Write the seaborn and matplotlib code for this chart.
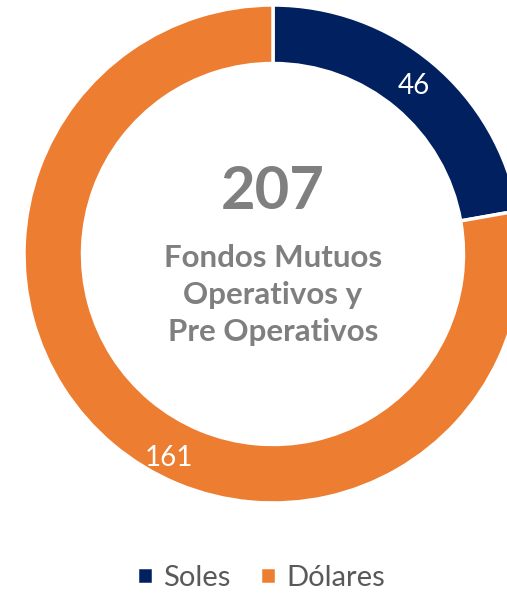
import matplotlib
matplotlib.use("Agg")
import matplotlib.pyplot as plt
import seaborn as sns
import numpy as np

# data
categories = ['Soles', 'Dólares']
values = [46, 161]
colors = ['#002060', '#ED7D31']
total_label = '207'
center_text = 'Fondos Mutuos\nOperativos y\nPre Operativos'

sns.set_theme(style="white", rc={"axes.grid": False,
                                 "axes.facecolor": "white",
                                 "figure.facecolor": "white"})
plt.rcParams['font.family'] = ['Lato', 'DejaVu Sans']

W, H = 507, 593
fig = plt.figure(figsize=(W / 100, H / 100), dpi=100)
ax = fig.add_axes([0, 0, 1, 1])

cx, cy, R = 273, H - 254, 249
ring = 0.235

wedges, texts, autotexts = ax.pie(
    values, colors=colors, startangle=90, counterclock=False,
    center=(cx, cy), radius=R,
    autopct=lambda p: f"{round(p * sum(values) / 100):d}",
    pctdistance=0.88,
    wedgeprops=dict(width=R * ring, edgecolor='white', linewidth=2.5),
    textprops=dict(color='white', fontsize=20))

# Excel puts the big label lower along the ring
ang = np.deg2rad(-117)
autotexts[1].set_position((cx + 0.92 * R * np.cos(ang), cy + 0.92 * R * np.sin(ang)))

ax.text(cx, H - 192, total_label, ha='center', va='center',
        fontsize=43, fontweight='bold', color='#7F7F7F')
ax.text(cx, H - 295, center_text, ha='center', va='center',
        fontsize=22.5, fontweight='bold', color='#7F7F7F', linespacing=1.4)

ax.legend(wedges, categories, loc='center', bbox_to_anchor=(0.515, (H - 578) / H),
          ncol=2, frameon=False, fontsize=21, handlelength=0.55, handleheight=0.55,
          handletextpad=0.35, columnspacing=1.0, labelcolor='#595959')

ax.set_xlim(0, W)
ax.set_ylim(0, H)
ax.set_aspect('equal')
ax.axis('off')

plt.savefig('out.png', dpi=100)
